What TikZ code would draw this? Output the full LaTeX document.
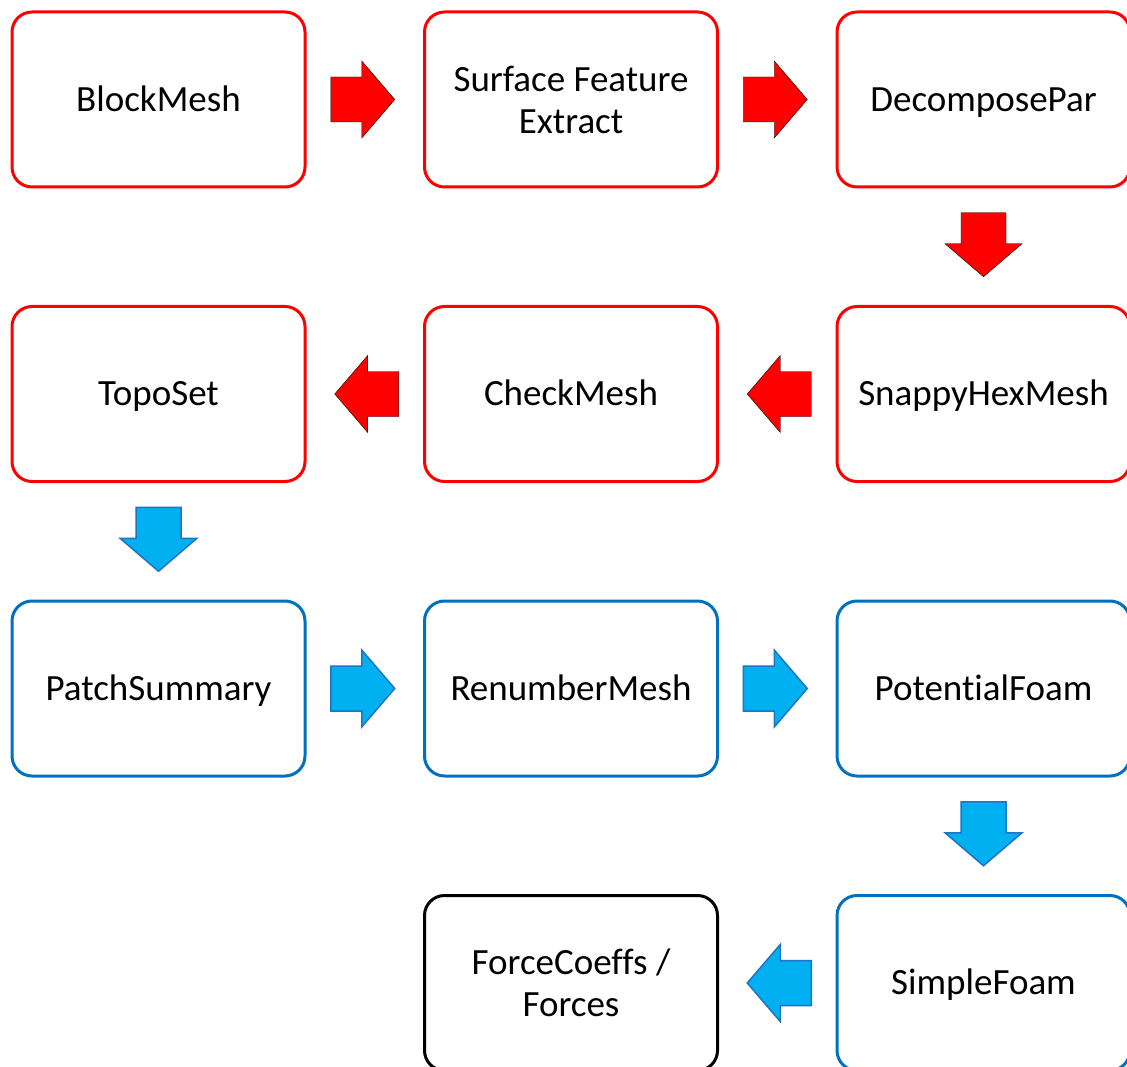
\documentclass[tikz,border=0pt]{standalone}
\usepackage{fontspec}
\setmainfont{Carlito}[Ligatures=NoCommon]
\usetikzlibrary{calc}
\definecolor{boxblue}{HTML}{0070C0}
\definecolor{arrowblue}{HTML}{00B0F0}
\definecolor{arrowedge}{HTML}{1F74C4}
\tikzset{
  box/.style={draw, rounded corners=20pt, line width=3pt, minimum width=293pt,
    minimum height=175pt, align=center, inner sep=0pt,
    font=\fontsize{37}{42}\selectfont},
  oneline/.style={text height=32pt, text depth=8.2pt},
  redbox/.style={box, draw=red},
  bluebox/.style={box, draw=boxblue},
  blackbox/.style={box, draw=black},
  redarrow/.style={fill=red},
  bluearrow/.style={fill=arrowblue, draw=arrowedge, line width=1.5pt, line join=miter},
}
\newcommand\blkarrow[3]{%
  \draw[#3, shift={(#1)}, rotate=#2]
    (-32pt,22.5pt) -- (-1pt,22.5pt) -- (-1pt,38.5pt) -- (32pt,0pt)
    -- (-1pt,-38.5pt) -- (-1pt,-22.5pt) -- (-32pt,-22.5pt) -- cycle;}
\begin{document}
\begin{tikzpicture}[x=1pt, y=-1pt]
\clip (0,0) rectangle (1127,1067);
\fill[white] (0,0) rectangle (1127,1067);
% row 1
\node[redbox, oneline] (bm) at (158.5,99.5) {BlockMesh};
\node[redbox] (sfe) at (571,99.5) {Surface Feature\\Extract};
\node[redbox, oneline] (dp) at (983.5,99.5) {DecomposePar};
% row 2
\node[redbox, oneline] (ts) at (158.5,394) {TopoSet};
\node[redbox, oneline] (cm) at (571,394) {CheckMesh};
\node[redbox, oneline] (shm) at (983.5,394) {SnappyHexMesh};
% row 3
\node[bluebox, oneline] (ps) at (158.5,688.5) {PatchSummary};
\node[bluebox, oneline] (rm) at (571,688.5) {RenumberMesh};
\node[bluebox, oneline] (pf) at (983.5,688.5) {PotentialFoam};
% row 4
\node[blackbox] (fc) at (571,983) {ForceCoeffs /\\Forces};
\node[bluebox, oneline] (sf) at (983.5,983) {SimpleFoam};
% connector positions
\coordinate (a1) at ($(bm.east)!0.5!(sfe.west)+(-2,0)$);
\coordinate (a2) at ($(sfe.east)!0.5!(dp.west)+(-2,0)$);
\coordinate (a3) at ($(dp.south)!0.5!(shm.north)+(0,-2)$);
\coordinate (a4) at ($(shm.west)!0.5!(cm.east)+(2,0)$);
\coordinate (a5) at ($(cm.west)!0.5!(ts.east)+(2,0)$);
\coordinate (a6) at ($(ts.south)!0.5!(ps.north)+(0,-2)$);
\coordinate (a7) at ($(ps.east)!0.5!(rm.west)+(-2,0)$);
\coordinate (a8) at ($(rm.east)!0.5!(pf.west)+(-2,0)$);
\coordinate (a9) at ($(pf.south)!0.5!(sf.north)+(0,-2)$);
\coordinate (a10) at ($(sf.west)!0.5!(fc.east)+(2,0)$);
% block arrows
\blkarrow{a1}{0}{redarrow}
\blkarrow{a2}{0}{redarrow}
\blkarrow{a3}{-90}{redarrow}
\blkarrow{a4}{180}{redarrow}
\blkarrow{a5}{180}{redarrow}
\blkarrow{a6}{-90}{bluearrow}
\blkarrow{a7}{0}{bluearrow}
\blkarrow{a8}{0}{bluearrow}
\blkarrow{a9}{-90}{bluearrow}
\blkarrow{a10}{180}{bluearrow}
\end{tikzpicture}
\end{document}
